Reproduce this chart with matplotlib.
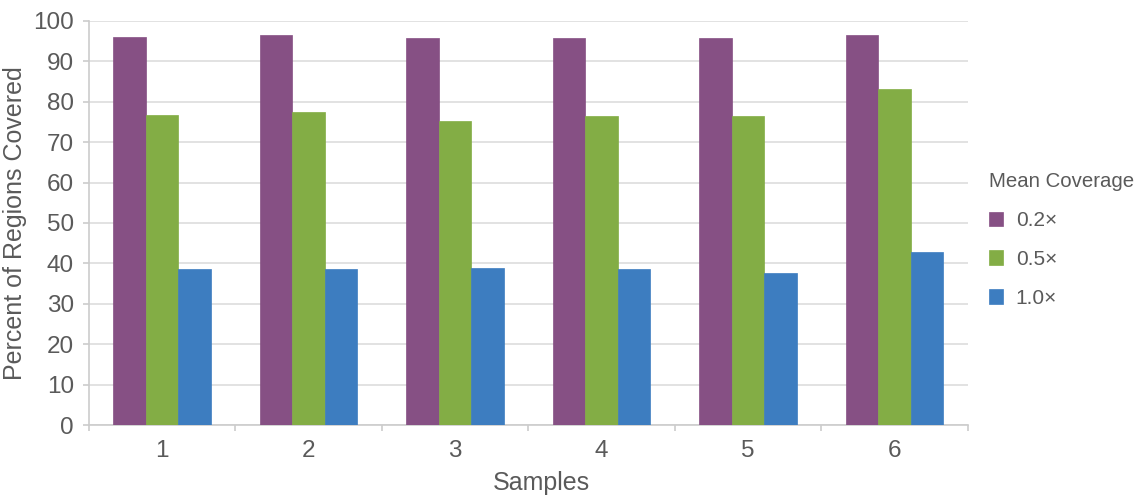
import matplotlib
matplotlib.use("Agg")
import matplotlib.pyplot as plt
import numpy as np

plt.rcParams['font.family'] = ['Liberation Sans', 'DejaVu Sans']

samples = ["1", "2", "3", "4", "5", "6"]
cov_02 = [96.0, 96.5, 95.8, 95.8, 95.8, 96.5]
cov_05 = [76.7, 77.5, 75.3, 76.5, 76.5, 83.2]
cov_10 = [38.6, 38.6, 38.9, 38.6, 37.6, 42.8]
series_labels = ["0.2×", "0.5×", "1.0×"]
colors = ["#865084", "#83AD45", "#3D7DC0"]

fig = plt.figure(figsize=(11.4, 5.0), dpi=100)
ax = fig.add_axes([0.078, 0.15, 0.771, 0.808])

x = np.arange(len(samples))
w = 0.222
for i, (vals, lab, c) in enumerate(zip([cov_02, cov_05, cov_10], series_labels, colors)):
    ax.bar(x + (i - 1) * w, vals, width=w, color=c, label=lab,
           edgecolor=c, linewidth=0.5, zorder=3)

ax.set_xlim(-0.5, len(samples) - 0.5)
ax.set_ylim(0, 100)
ax.set_yticks(np.arange(0, 101, 10))
ax.grid(axis='y', color='#dddddd', linewidth=1.2, zorder=0)
ax.set_axisbelow(True)

txt = '#5a5a5a'
ax.set_xticks(x)
ax.set_xticklabels(samples)
ax.set_xticks(np.arange(-0.5, len(samples)), minor=True)
ax.tick_params(axis='x', which='major', length=0, pad=11, labelsize=17.5, labelcolor=txt)
ax.tick_params(axis='x', which='minor', length=4.3, color='#cccccc', width=1.2)
ax.tick_params(axis='y', length=4.3, color='#cccccc', width=1.2, pad=6.5, labelsize=17.5, labelcolor=txt)

for s in ['top', 'right']:
    ax.spines[s].set_visible(False)
for s in ['left', 'bottom']:
    ax.spines[s].set_color('#cccccc')
    ax.spines[s].set_linewidth(1.2)

ax.set_xlabel("Samples", fontsize=18, color=txt)
ax.xaxis.set_label_coords(0.515, -0.114)
ax.set_ylabel("Percent of Regions Covered", fontsize=18, color=txt)
ax.yaxis.set_label_coords(-0.0705, 0.5)

leg = fig.legend(*ax.get_legend_handles_labels(), title="Mean Coverage",
                 loc='center left', bbox_to_anchor=(989 / 1140, 1 - 240 / 500),
                 bbox_transform=fig.transFigure, borderaxespad=0, borderpad=0,
                 frameon=False, fontsize=15, title_fontsize=14.7, handlelength=0.68,
                 handleheight=0.68, labelspacing=0.95, handletextpad=0.6, alignment='left')
for t in leg.get_texts():
    t.set_color(txt)
leg.get_title().set_color(txt)

fig.savefig("out.png", dpi=100)
